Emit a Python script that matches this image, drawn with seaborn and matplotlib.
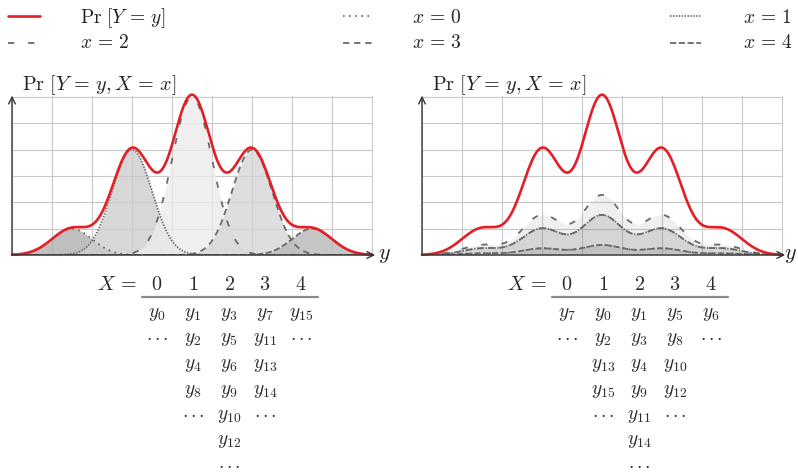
"""
Joint distribution Pr[Y=y, X=x]: two partitions of the same Pr[Y=y] curve,
with the assignment tables below each panel.
"""

import numpy as np
import matplotlib.pyplot as plt
import seaborn as sns
from matplotlib.lines import Line2D

# ---------------------------------------------------------
# data (grid units)
# ---------------------------------------------------------
x_values = [0, 1, 2, 3, 4]
bump_centers = [1.5, 3.0, 4.5, 6.0, 7.5]
bump_heights = [1.0, 4.0, 6.0, 4.0, 1.0]
bump_widths = [0.5, 0.5, 0.5, 0.5, 0.5]
x_shares = [1 / 16, 4 / 16, 6 / 16, 4 / 16, 1 / 16]   # right panel: Pr[X=x]

legend_labels = [r"$\Pr\,[Y\,=\,y]$", r"$x\,=\,0$", r"$x\,=\,1$",
                 r"$x\,=\,2$", r"$x\,=\,3$", r"$x\,=\,4$"]
title_text = r"$\Pr\,[Y\,=\,y, X\,=\,x]$"

DOTS = r"{\cdot}\,{\cdot}\,{\cdot}"
left_table = [
    [r"y_0", r"y_1", r"y_3", r"y_7", r"y_{15}"],
    [DOTS, r"y_2", r"y_5", r"y_{11}", DOTS],
    ["", r"y_4", r"y_6", r"y_{13}", ""],
    ["", r"y_8", r"y_9", r"y_{14}", ""],
    ["", DOTS, r"y_{10}", DOTS, ""],
    ["", "", r"y_{12}", "", ""],
    ["", "", DOTS, "", ""],
]
right_table = [
    [r"y_7", r"y_0", r"y_1", r"y_5", r"y_6"],
    [DOTS, r"y_2", r"y_3", r"y_8", DOTS],
    ["", r"y_{13}", r"y_4", r"y_{10}", ""],
    ["", r"y_{15}", r"y_9", r"y_{12}", ""],
    ["", DOTS, r"y_{11}", DOTS, ""],
    ["", "", r"y_{14}", "", ""],
    ["", "", DOTS, "", ""],
]

# ---------------------------------------------------------
# styling
# ---------------------------------------------------------
sns.set_theme(style="white")
plt.rcParams["mathtext.fontset"] = "cm"
plt.rcParams["font.family"] = ["DejaVu Sans"]
plt.rcParams["lines.scale_dashes"] = False

W, H = 798, 476
RED = "#e41e26"
GRAY = "#6a6a6a"
TXT = "#222222"
TAB = "#2b2b2b"
x_styles = [(0, (1.2, 3.2)), (0, (1.0, 1.1)), (0, (4.5, 10)), (0, (4.5, 3.5)), (0, (4.5, 1.8))]
left_fills = ["#b0b0b0", "#cdcdcd", "#ececec", "#d6d6d6", "#b8b8b8"]


def fx(px):
    return px / W


def fy(py):
    return 1 - py / H


fig = plt.figure(figsize=(W / 100, H / 100), dpi=100)

ys = np.linspace(0, 9, 600)
parts = [h * np.exp(-(ys - c) ** 2 / (2 * w ** 2))
         for c, h, w in zip(bump_centers, bump_heights, bump_widths)]
total = np.sum(parts, axis=0)


def setup_axes(left_px, ylabel_x):
    ax = fig.add_axes([fx(left_px), fy(255), 9.02 * 40 / W, 6.02 * 26.33 / H])
    ax.set_xlim(0, 9.02)
    ax.set_ylim(0, 6.02)
    ax.set_xticks(np.arange(0, 10))
    ax.set_yticks(np.arange(0, 7))
    ax.grid(True, color="#c8c8c8", lw=0.8)
    ax.tick_params(length=0, labelbottom=False, labelleft=False)
    for s in ax.spines.values():
        s.set_visible(False)
    arrow = dict(arrowstyle="->", lw=1.0, color="#333333", shrinkA=0, shrinkB=0)
    ax.annotate("", xy=(9.08, 0), xytext=(0, 0), arrowprops=arrow, annotation_clip=False)
    ax.annotate("", xy=(0, 6.05), xytext=(0, 0), arrowprops=arrow, annotation_clip=False)
    ax.text(ylabel_x, -0.15, r"$y$", fontsize=16, ha="center", va="baseline",
            color=TXT, clip_on=False)
    return ax


# ---------------------------------------------------------
# left panel: every x owns one bump
# ---------------------------------------------------------
ax1 = setup_axes(12, 9.3)
for i, part in enumerate(parts):
    ax1.fill_between(ys, 0, part, color=left_fills[i], alpha=0.8, lw=0)
for i, part in enumerate(parts):
    sns.lineplot(x=ys, y=part, ax=ax1, color=GRAY, lw=1.3, linestyle=x_styles[i],
                 estimator=None, errorbar=None)
sns.lineplot(x=ys, y=total, ax=ax1, color=RED, lw=1.9, clip_on=False,
             estimator=None, errorbar=None)

# ---------------------------------------------------------
# right panel: every x gets a scaled copy of Pr[Y=y]
# ---------------------------------------------------------
ax2 = setup_axes(422, 9.2)
for i, share in enumerate(x_shares):
    ax2.fill_between(ys, 0, total * share, color="#808080", alpha=0.12, lw=0)
for i, share in enumerate(x_shares):
    sns.lineplot(x=ys, y=total * share, ax=ax2, color=GRAY, lw=1.3,
                 linestyle=x_styles[i], estimator=None, errorbar=None)
sns.lineplot(x=ys, y=total, ax=ax2, color=RED, lw=1.9, clip_on=False,
             estimator=None, errorbar=None)

for left_px in (22, 432):
    fig.text(fx(left_px), fy(90), title_text, fontsize=14.5, ha="left",
             va="baseline", color=TXT)

# ---------------------------------------------------------
# legend (drawn by hand, three columns)
# ---------------------------------------------------------
handle_x = [(8, 40), (343, 372), (670, 701)]
label_x = [80, 412, 743]
rows_y = [(16, 23), (43, 48)]
legend_styles = ["-"] + x_styles
for k, label in enumerate(legend_labels):
    r, c = divmod(k, 3)
    color = RED if k == 0 else GRAY
    lw = 1.9 if k == 0 else 1.3
    x0, x1 = handle_x[c]
    fig.add_artist(Line2D([fx(x0), fx(x1)], [fy(rows_y[r][0])] * 2,
                          transform=fig.transFigure, color=color, lw=lw,
                          linestyle=legend_styles[k]))
    fig.text(fx(label_x[c]), fy(rows_y[r][1]), label, fontsize=14, ha="left",
             va="baseline", color=TXT)


# ---------------------------------------------------------
# tables
# ---------------------------------------------------------
def draw_table(offset, table):
    fig.text(fx(97 + offset), fy(290), r"$X\,=$", fontsize=14.5, ha="left",
             va="baseline", color=TAB)
    for i, xv in enumerate(x_values):
        fig.text(fx(157 + 36 * i + offset), fy(290), f"${xv}$", fontsize=14.5,
                 ha="center", va="baseline", color=TAB)
    fig.add_artist(Line2D([fx(142 + offset), fx(318 + offset)], [fy(297)] * 2,
                          transform=fig.transFigure, color="#8a8a8a", lw=1.6))
    for r, row in enumerate(table):
        for c, cell in enumerate(row):
            if cell:
                fig.text(fx(157 + 36 * c + offset), fy(317 + 25.5 * r), f"${cell}$",
                         fontsize=14, ha="center", va="baseline", color=TAB)


draw_table(0, left_table)
draw_table(410, right_table)

plt.savefig("out.png", dpi=100)
plt.close()
